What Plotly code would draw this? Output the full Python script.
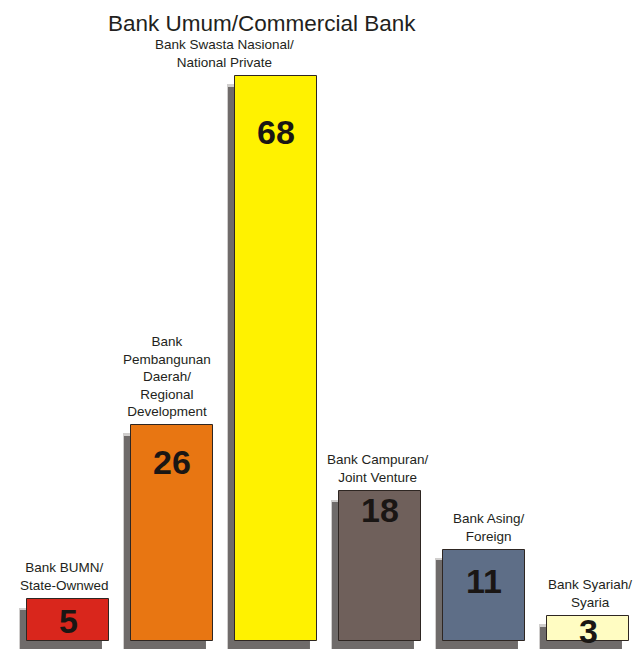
import plotly.graph_objects as go

# ---- data ----
categories = [
    "Bank BUMN/<br>State-Ownwed",
    "Bank<br>Pembangunan<br>Daerah/<br>Regional<br>Development",
    "Bank Swasta Nasional/<br>National Private",
    "Bank Campuran/<br>Joint Venture",
    "Bank Asing/<br>Foreign",
    "Bank Syariah/<br>Syaria",
]
values = [5, 26, 68, 18, 11, 3]
title_text = "Bank Umum/Commercial Bank"

# ---- styles ----
colors = ["#d9261c", "#e87612", "#fff200", "#6f605b", "#5e6e87", "#fffcc2"]
label_xshift = [-4, -5, -52, -2, 5, 2]
value_yshift = [-22, -37, -56, -19, -31, -15]
FONT = "Arial, Liberation Sans, sans-serif"

bar_w = 82 / 104
shadow_dx = 7 / 104
y_bottom = -0.963
y_top = 77.15

x = list(range(len(values)))

fig = go.Figure()

# soft outer shadow
fig.add_trace(go.Bar(
    x=x, y=[v - 1.0 - y_bottom for v in values], base=[y_bottom] * len(values),
    width=bar_w, offset=-bar_w / 2 - shadow_dx - 0.012,
    marker=dict(color="rgba(150,147,144,0.45)", line=dict(width=0)),
    hoverinfo="skip", showlegend=False,
))
# core shadow
fig.add_trace(go.Bar(
    x=x, y=[v - 1.3 - y_bottom for v in values], base=[y_bottom] * len(values),
    width=bar_w, offset=-bar_w / 2 - shadow_dx,
    marker=dict(color="rgba(100,97,95,0.9)", line=dict(width=0)),
    hoverinfo="skip", showlegend=False,
))
# main bars
fig.add_trace(go.Bar(
    x=x, y=values, width=bar_w, offset=-bar_w / 2,
    marker=dict(color=colors, line=dict(color="#2e2622", width=1)),
    hoverinfo="skip", showlegend=False,
))

for i, (cat, v) in enumerate(zip(categories, values)):
    fig.add_annotation(
        x=i, y=v, xref="x", yref="y", text=cat, showarrow=False,
        yanchor="bottom", xanchor="center", yshift=4, xshift=label_xshift[i],
        font=dict(family=FONT, size=13.5, color="#231f20"),
        align="center",
    )
    fig.add_annotation(
        x=i, y=v, xref="x", yref="y", text="<b>%d</b>" % v, showarrow=False,
        yanchor="middle", xanchor="center", yshift=value_yshift[i],
        font=dict(family=FONT, size=34, color="#1a1614"),
    )

fig.add_annotation(
    x=(262 - 16) / 624, y=1 - 24 / 649, xref="paper", yref="paper",
    text=title_text, showarrow=False, xanchor="center", yanchor="middle",
    font=dict(family=FONT, size=22.5, color="#231f20"),
)

fig.update_layout(
    width=643, height=649,
    margin=dict(l=16, r=3, t=0, b=0),
    paper_bgcolor="white", plot_bgcolor="white",
    barmode="overlay", bargap=0,
    xaxis=dict(visible=False, range=[-0.5, 5.5]),
    yaxis=dict(visible=False, range=[y_bottom, y_top]),
)

fig.write_html("out.html")
